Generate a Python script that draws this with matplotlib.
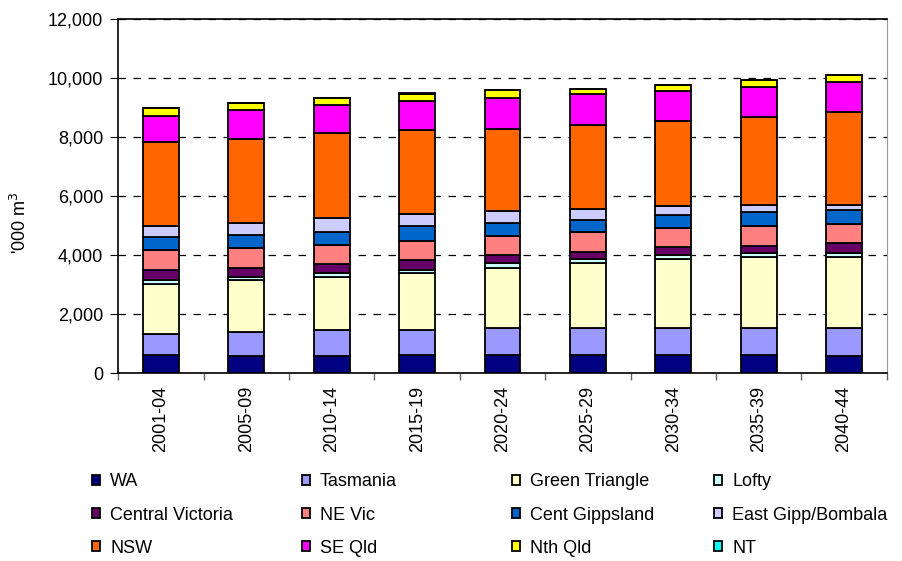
import numpy as np
import matplotlib.pyplot as plt
from matplotlib.ticker import FuncFormatter

plt.rcParams['font.family'] = ['Liberation Sans', 'DejaVu Sans']

periods = ['2001-04', '2005-09', '2010-14', '2015-19', '2020-24',
           '2025-29', '2030-34', '2035-39', '2040-44']

regions = ['WA', 'Tasmania', 'Green Triangle', 'Lofty', 'Central Victoria',
           'NE Vic', 'Cent Gippsland', 'East Gipp/Bombala', 'NSW', 'SE Qld',
           'Nth Qld', 'NT']

wa = [610, 565, 565, 610, 610, 610, 610, 610, 565]
tasmania = [720, 835, 880, 850, 905, 905, 905, 905, 950]
green_triangle = [1695, 1740, 1820, 1920, 2055, 2225, 2360, 2430, 2430]
lofty = [115, 115, 115, 115, 145, 125, 135, 125, 110]
central_vic = [360, 315, 305, 325, 280, 250, 250, 250, 340]
ne_vic = [680, 665, 665, 665, 665, 665, 655, 655, 645]
cent_gipps = [420, 430, 430, 485, 430, 420, 440, 475, 475]
east_gipp = [375, 420, 485, 420, 420, 375, 295, 240, 170]
nsw = [2845, 2860, 2860, 2860, 2780, 2845, 2890, 2985, 3175]
se_qld = [905, 960, 960, 960, 1040, 1030, 1030, 1015, 1015]
nth_qld = [250, 250, 250, 235, 250, 190, 180, 235, 235]
nt = [0, 0, 0, 60, 0, 0, 0, 0, 0]

series = [wa, tasmania, green_triangle, lofty, central_vic, ne_vic,
          cent_gipps, east_gipp, nsw, se_qld, nth_qld, nt]
colors = ['#000080', '#9999FF', '#FFFFCC', '#CCFFFF', '#660066', '#FF8080',
          '#0066CC', '#CCCCFF', '#FF6600', '#FF00FF', '#FFFF00', '#00FFFF']

fig = plt.figure(figsize=(9.03, 5.61), dpi=100)
ax = fig.add_axes([0.131, 0.335, 0.851, 0.631])

x = np.arange(len(periods))
bottom = np.zeros(len(periods))
handles = []
for name, vals, c in zip(regions, series, colors):
    vals = np.array(vals, dtype=float)
    b = ax.bar(x, vals, 0.42, bottom=bottom, color=c, edgecolor='black',
               linewidth=1.3, label=name, zorder=3)
    handles.append(b)
    bottom += vals

ax.set_xlim(-0.5, len(periods) - 0.5)
ax.set_ylim(0, 12000)
ax.set_yticks(np.arange(0, 12001, 2000))
ax.yaxis.set_major_formatter(FuncFormatter(lambda v, p: f'{int(v):,}'))
ax.yaxis.grid(True, linestyle=(0, (6, 6)), color='black', linewidth=0.9)
ax.set_axisbelow(True)

ax.set_xticks(x)
ax.set_xticklabels(periods, rotation=90, fontsize=13)
ax.set_xticks(np.arange(-0.5, len(periods)), minor=True)
ax.tick_params(axis='x', which='major', length=0, pad=9)
ax.tick_params(axis='x', which='minor', length=5, width=1, color='#666666')
ax.tick_params(axis='y', labelsize=13, length=6, pad=5)

# y label sits a little below the middle of the axis, as in the original
fig.text(20 / 903, 1 - 223 / 561, "'000 m$^3$", fontsize=13, rotation=90,
         ha='center', va='center')

ax.spines['top'].set_linewidth(1.2)
ax.spines['right'].set_color('#999999')
ax.spines['left'].set_linewidth(1.2)
ax.spines['bottom'].set_linewidth(1.2)

# legend: four columns, placed at fixed x positions like the original
col_x = [92, 302, 512, 714]
for c in range(4):
    idx = [c, c + 4, c + 8]
    fig.legend([handles[i] for i in idx], [regions[i] for i in idx],
               loc='center left', bbox_to_anchor=(col_x[c] / 903, 1 - 515 / 561),
               frameon=False, fontsize=13, handlelength=0.45,
               handleheight=0.45, handletextpad=0.55, labelspacing=0.9,
               borderpad=0, borderaxespad=0)

fig.savefig('out.png', dpi=100)
